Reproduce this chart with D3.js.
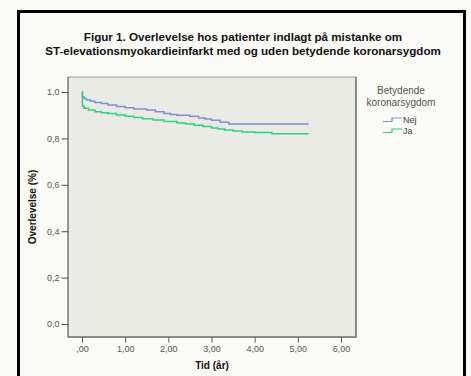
<!DOCTYPE html>
<html>
<head>
<meta charset="utf-8">
<script src="https://cdn.jsdelivr.net/npm/d3@7"></script>
<style>
  html, body { margin: 0; padding: 0; background: #fafaf6; }
  svg { display: block; font-family: "Liberation Sans", Arial, sans-serif; }
</style>
</head>
<body>
<svg id="chart" width="471" height="376"></svg>
<script>
// data (time in years, survival proportion)
var nejTid = [0, 0.01, 0.05, 0.1, 0.2, 0.3, 0.45, 0.6, 0.8, 1.0, 1.2, 1.5, 1.7, 1.9, 2.05, 2.2, 2.5, 2.7, 2.85, 3.0, 3.2, 3.4, 5.25];
var nejOverlevelse = [1.0, 0.978, 0.972, 0.965, 0.96, 0.955, 0.95, 0.944, 0.938, 0.932, 0.927, 0.922, 0.915, 0.907, 0.903, 0.9, 0.895, 0.888, 0.884, 0.878, 0.87, 0.862, 0.862];
var jaTid = [0, 0.01, 0.05, 0.15, 0.3, 0.45, 0.6, 0.8, 1.0, 1.2, 1.4, 1.65, 1.9, 2.2, 2.4, 2.6, 2.8, 3.0, 3.15, 3.3, 3.5, 3.7, 4.0, 4.4, 5.25];
var jaOverlevelse = [1.0, 0.94, 0.93, 0.922, 0.915, 0.911, 0.907, 0.901, 0.895, 0.89, 0.885, 0.879, 0.873, 0.866, 0.862, 0.857, 0.851, 0.845, 0.84, 0.836, 0.832, 0.828, 0.825, 0.82, 0.82];

var grupper = ['Nej', 'Ja'];
var farver = ['#7f8fd4', '#2ad47a'];
var xTicks = [0, 1, 2, 3, 4, 5, 6];
var yTicks = [0, 0.2, 0.4, 0.6, 0.8, 1.0];

var titel = [
  'Figur 1. Overlevelse hos patienter indlagt på mistanke om',
  'ST-elevationsmyokardieinfarkt med og uden betydende koronarsygdom'
];

var svg = d3.select('#chart');

// outer frame (bottom edge is cut off in the original)
svg.append('path')
  .attr('d', 'M18.5,390 V11.5 H464.5 V390')
  .attr('fill', 'none')
  .attr('stroke', '#000')
  .attr('stroke-width', 3);

svg.selectAll('text.titel')
  .data(titel)
  .enter().append('text')
  .attr('class', 'titel')
  .attr('x', 243)
  .attr('y', function(d, i) { return 41 + i * 14; })
  .attr('text-anchor', 'middle')
  .attr('font-size', 11.6)
  .attr('font-weight', 'bold')
  .attr('fill', '#111')
  .text(function(d) { return d; });

// plot area
var plot = { left: 68, top: 77, right: 356, bottom: 337 };

var x = d3.scaleLinear().domain([0, 6]).range([82, 341]);
var y = d3.scaleLinear().domain([0, 1]).range([324, 92]);

svg.append('rect')
  .attr('x', plot.left)
  .attr('y', plot.top)
  .attr('width', plot.right - plot.left)
  .attr('height', plot.bottom - plot.top)
  .attr('fill', '#ebebe6')
  .attr('stroke', '#9a9a9a')
  .attr('stroke-width', 1);
// darker right and bottom edges
svg.append('path')
  .attr('d', 'M' + plot.right + ',' + plot.top + 'V' + plot.bottom + 'H' + plot.left)
  .attr('fill', 'none')
  .attr('stroke', '#8a8a8a')
  .attr('stroke-width', 2);
svg.append('line')
  .attr('x1', plot.left).attr('x2', plot.left)
  .attr('y1', plot.top).attr('y2', plot.bottom)
  .attr('stroke', '#666');

function komma(s) { return s.replace('.', ','); }

var yAxis = d3.axisLeft(y)
  .tickValues(yTicks)
  .tickSize(7)
  .tickPadding(2)
  .tickFormat(function(d) { return komma(d3.format('.1f')(d)); });

var xAxis = d3.axisBottom(x)
  .tickValues(xTicks)
  .tickSize(5)
  .tickPadding(3)
  .tickFormat(function(d) {
    var s = komma(d3.format('.2f')(d));
    return d === 0 ? s.slice(1) : s;
  });

var gy = svg.append('g')
  .attr('transform', 'translate(' + (plot.left + 0.5) + ',0)')
  .call(yAxis);
var gx = svg.append('g')
  .attr('transform', 'translate(0,' + (plot.bottom + 0.5) + ')')
  .call(xAxis);

[gy, gx].forEach(function(g) {
  g.select('.domain').remove();
  g.selectAll('line').attr('stroke', '#555');
  g.selectAll('text')
    .attr('fill', '#555')
    .attr('font-size', 9)
    .attr('font-family', '"Liberation Sans", Arial, sans-serif');
});

svg.append('text')
  .attr('transform', 'translate(36,' + ((plot.top + plot.bottom) / 2) + ') rotate(-90)')
  .attr('text-anchor', 'middle')
  .attr('font-size', 10)
  .attr('font-weight', 'bold')
  .attr('fill', '#111')
  .text('Overlevelse (%)');

svg.append('text')
  .attr('x', 212)
  .attr('y', 369)
  .attr('text-anchor', 'middle')
  .attr('font-size', 10)
  .attr('font-weight', 'bold')
  .attr('fill', '#111')
  .text('Tid (år)');

// survival curves
var serier = [
  { navn: 'Nej', tid: nejTid, val: nejOverlevelse },
  { navn: 'Ja', tid: jaTid, val: jaOverlevelse }
];

var linje = d3.line()
  .curve(d3.curveStepAfter)
  .x(function(d) { return x(d[0]); })
  .y(function(d) { return y(d[1]); });

svg.selectAll('path.kurve')
  .data(serier)
  .enter().append('path')
  .attr('class', 'kurve')
  .attr('fill', 'none')
  .attr('stroke', function(d, i) { return farver[i]; })
  .attr('stroke-width', 1.5)
  .attr('d', function(d) { return linje(d3.zip(d.tid, d.val)); });

// legend
svg.append('text')
  .attr('x', 401).attr('y', 94)
  .attr('text-anchor', 'middle')
  .attr('font-size', 10)
  .attr('fill', '#555')
  .text('Betydende');
svg.append('text')
  .attr('x', 401).attr('y', 106)
  .attr('text-anchor', 'middle')
  .attr('font-size', 10)
  .attr('fill', '#555')
  .text('koronarsygdom');

var leg = svg.selectAll('g.leg')
  .data(grupper)
  .enter().append('g')
  .attr('class', 'leg')
  .attr('transform', function(d, i) { return 'translate(383,' + (120 + i * 11) + ')'; });
leg.append('path')
  .attr('d', 'M0,1.5H9V-2H19')
  .attr('fill', 'none')
  .attr('stroke', function(d, i) { return farver[i]; })
  .attr('stroke-width', 1.2);
leg.append('text')
  .attr('x', 20).attr('y', 3)
  .attr('font-size', 9)
  .attr('fill', '#444')
  .text(function(d) { return d; });
</script>
</body>
</html>
